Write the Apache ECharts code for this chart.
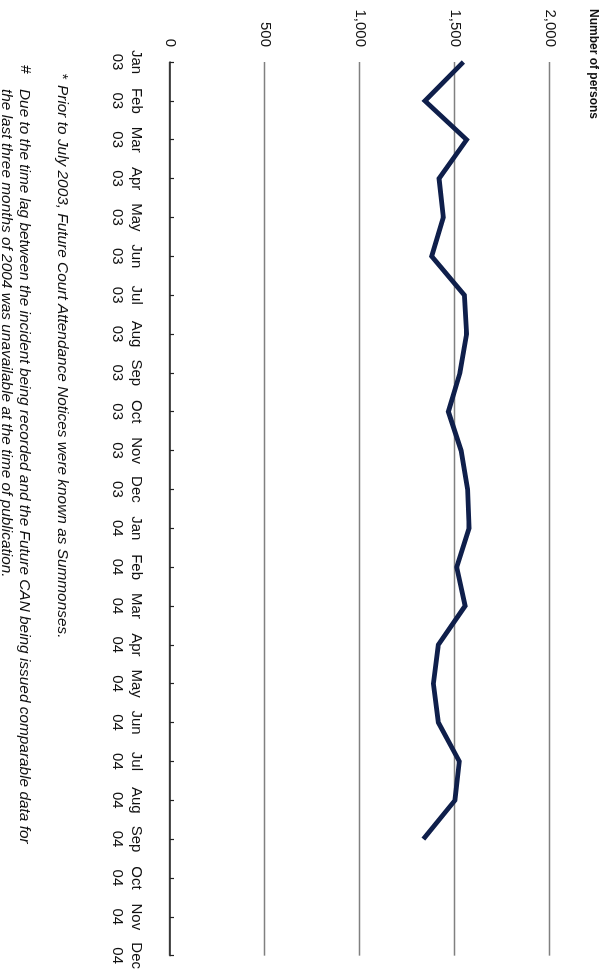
<!DOCTYPE html>
<html>
<head>
<meta charset="utf-8">
<script src="https://cdn.jsdelivr.net/npm/echarts@6/dist/echarts.min.js"></script>
<style>
html,body{margin:0;padding:0;width:615px;height:972px;overflow:hidden;background:#fff;}
#main{position:absolute;left:0;top:0;width:972px;height:615px;transform-origin:0 0;transform:translate(615px,0) rotate(90deg);}
</style>
</head>
<body>
<div id="main"></div>
<script>
const months = ['Jan','Feb','Mar','Apr','May','Jun','Jul','Aug','Sep','Oct','Nov','Dec','Jan','Feb','Mar','Apr','May','Jun','Jul','Aug','Sep','Oct','Nov','Dec'];
const years = ['03','03','03','03','03','03','03','03','03','03','03','03','04','04','04','04','04','04','04','04','04','04','04','04'];
const persons = [1544, 1342, 1561, 1416, 1439, 1377, 1549, 1561, 1526, 1465, 1532, 1567, 1574, 1509, 1553, 1412, 1386, 1412, 1523, 1500, 1333, null, null, null];
const yTicks = [0, 500, 1000, 1500, 2000];
const titleText = 'Number of persons';
const note1Mark = '*';
const note1 = 'Prior to July 2003, Future Court Attendance Notices were known as Summonses.';
const note2Mark = '#';
const note2a = 'Due to the time lag between the incident being recorded and the Future CAN being issued comparable data for';
const note2b = 'the last three months of 2004 was unavailable at the time of publication.';

const categories = months.map((m, i) => m + '\n' + years[i]);
const FONT = '"Liberation Sans", Arial, sans-serif';

const chart = echarts.init(document.getElementById('main'), null, {renderer: 'canvas', width: 972, height: 615});
chart.setOption({
  animation: false,
  backgroundColor: '#fff',
  textStyle: {fontFamily: FONT},
  grid: {left: 62, right: 14, top: 65, bottom: 170, containLabel: false},
  xAxis: {
    type: 'category',
    data: categories,
    boundaryGap: false,
    axisLine: {lineStyle: {color: '#222', width: 1.5}},
    axisTick: {inside: true, length: 4, lineStyle: {color: '#222', width: 1.2}},
    axisLabel: {color: '#111', fontSize: 15, fontFamily: FONT, lineHeight: 19, margin: 24, interval: 0}
  },
  yAxis: {
    type: 'value',
    min: yTicks[0],
    max: yTicks[yTicks.length - 1],
    interval: yTicks[1] - yTicks[0],
    axisLine: {show: false},
    axisTick: {show: false},
    splitLine: {lineStyle: {color: '#808080', width: 1.3}},
    axisLabel: {
      color: '#111', fontSize: 15, fontFamily: FONT, margin: 15,
      formatter: v => v.toLocaleString('en-US')
    }
  },
  series: [{
    type: 'line',
    data: persons,
    showSymbol: false,
    symbol: 'none',
    connectNulls: false,
    lineStyle: {color: '#0f1f4b', width: 4.8, join: 'miter'},
    z: 5
  }],
  graphic: [
    {type: 'text', left: 9, top: 16, style: {text: titleText, font: 'bold 12px ' + FONT, fill: '#111'}},
    {type: 'text', left: 73, top: 545, style: {text: note1Mark, font: 'italic 15.4px ' + FONT, fill: '#111'}},
    {type: 'text', left: 85, top: 545, style: {text: note1, font: 'italic 15.4px ' + FONT, fill: '#111'}},
    {type: 'text', left: 65, top: 582, style: {text: note2Mark, font: 'italic 15.4px ' + FONT, fill: '#111'}},
    {type: 'text', left: 89, top: 582, style: {text: note2a + '\n' + note2b, font: 'italic 15.4px ' + FONT, lineHeight: 18, fill: '#111'}}
  ]
});
</script>
</body>
</html>
